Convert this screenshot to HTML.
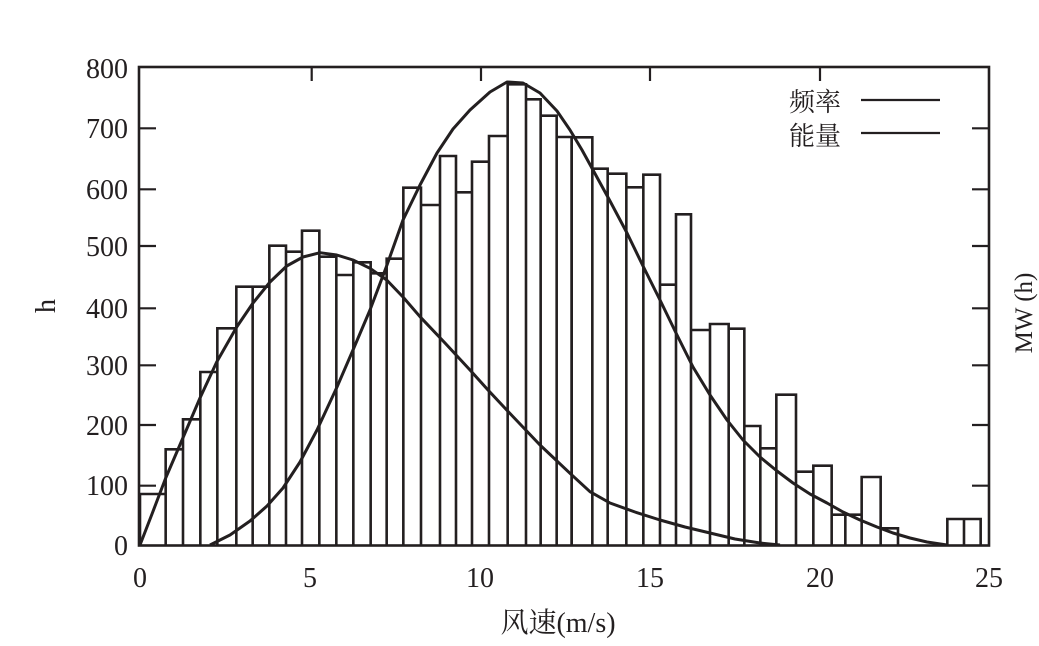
<!DOCTYPE html>
<html><head><meta charset="utf-8"><style>
html,body{margin:0;padding:0;background:#fff;}
svg{display:block}
text{font-family:"Liberation Serif","Noto Serif CJK SC",serif;fill:#231f20}
.cj{font-family:"Liberation Serif","Noto Serif CJK SC","Noto Sans CJK SC",serif}
</style></head><body>
<svg width="1039" height="646" viewBox="0 0 1039 646" xmlns="http://www.w3.org/2000/svg">
<g fill="#fff" stroke="#231f20" stroke-width="2.6" fill-opacity="0">
<g transform="translate(130,60) scale(0.33333)">
<path vector-effect="non-scaling-stroke" d="
M30,1455V1302H107V1455
M107,1455V1168H159V1455
M159,1455V1078H211V1455
M211,1455V936H262V1455
M262,1455V805H319V1455
M319,1455V680H368V1455
M368,1455V680H418V1455
M418,1455V557H468V1455
M468,1455V575H516V1455
M516,1455V512H568V1455
M568,1455V590H619V1455
M619,1455V645H670V1455
M670,1455V607H722V1455
M722,1455V640H770V1455
M770,1455V596H820V1455
M820,1455V383H873V1455
M873,1455V435H930V1455
M930,1455V288H978V1455
M978,1455V397H1026V1455
M1026,1455V305H1077V1455
M1077,1455V228H1133V1455
M1133,1455V73H1188V1455
M1188,1455V118H1232V1455
M1232,1455V167H1280V1455
M1280,1455V231H1325V1455
"/>
</g>
<g transform="translate(560,60) scale(0.33333)">
<path vector-effect="non-scaling-stroke" d="
M35,1455V232H97V1455
M97,1455V326H143V1455
M143,1455V341H199V1455
M199,1455V382H250V1455
M250,1455V344H300V1455
M300,1455V674H348V1455
M348,1455V463H393V1455
M393,1455V810H450V1455
M450,1455V792H506V1455
M506,1455V806H553V1455
M553,1455V1098H601V1455
M601,1455V1165H649V1455
M649,1455V1004H708V1455
M708,1455V1235H760V1455
M760,1455V1217H815V1455
M815,1455V1364H856V1455
M856,1455V1364H905V1455
M905,1455V1251H962V1455
M962,1455V1405H1014V1455
M1162,1455V1377H1212V1455
M1212,1455V1377H1262V1455
"/>
</g>
</g>
<g fill="none" stroke="#231f20" stroke-width="3" stroke-linejoin="round">
<path d="M140,545 L152,514 L165.7,478 L183.3,437 L200,398 L216.7,362 L236.7,327 L253,303 L270,282 L286.7,266 L303,257 L320,252.7 L336.7,255 L353,260 L370,268.3 L386.7,280 L403,297 L420,316.7 L445,343 L470,370 L488,390 L506.7,410 L540,445 L570,473.3 L590,491.7 L610,503 L635,512 L660,520 L685,527 L710,533 L735,539 L760,543 L780,545"/>
<path d="M210,545 L230,535 L250,521 L267,506 L283,488 L300,462 L317,430 L337,387 L353,350 L370,310 L387,265 L403,220 L420,185 L437,153 L453,129 L470,110 L490,92 L507,82 L523,83 L540,93 L557,111 L570,130 L582,150 L593,170 L610,201 L627,233 L643,266 L660,300 L677,335 L693,367 L710,395 L727,420 L743,440 L760,457 L777,471 L793,483 L810,494 L827,503 L843,512 L860,520 L877,527 L893,533 L910,538 L927,542 L947,545"/>
</g>
<rect x="139" y="67" width="850" height="478.5" fill="none" stroke="#231f20" stroke-width="2.6"/>
<g stroke="#231f20" stroke-width="2.2">
<path d="M139,485.7h17M139,425h17M139,365.3h17M139,308.3h17M139,246h17M139,189.3h17M139,128.3h17"/>
<path d="M989,485.7h-17M989,425h-17M989,365.3h-17M989,308.3h-17M989,246h-17M989,189.3h-17M989,128.3h-17"/>
<path d="M311.7,67v14M481,67v14M650,67v14M820,67v14"/>
</g>
<text x="789" y="111" font-size="26" class="cj">频率</text>
<text x="789" y="145" font-size="26" class="cj">能量</text>
<path d="M861,100H940M861,133H940" stroke="#231f20" stroke-width="2.2"/>
<g font-size="28" text-anchor="end">
<text x="128" y="555">0</text>
<text x="128" y="495">100</text>
<text x="128" y="435">200</text>
<text x="128" y="375">300</text>
<text x="128" y="318">400</text>
<text x="128" y="256">500</text>
<text x="128" y="199">600</text>
<text x="128" y="138">700</text>
<text x="128" y="78">800</text>
</g>
<g font-size="28" text-anchor="middle">
<text x="140" y="587">0</text>
<text x="310" y="587">5</text>
<text x="480" y="587">10</text>
<text x="650" y="587">15</text>
<text x="820" y="587">20</text>
<text x="989" y="587">25</text>
</g>
<text x="558" y="632" font-size="28" text-anchor="middle" class="cj">风速(m/s)</text>
<text transform="translate(55,306) rotate(-90)" font-size="28" text-anchor="middle">h</text>
<text transform="translate(1032,313) rotate(-90)" font-size="25" text-anchor="middle">MW (h)</text>
</svg>
</body></html>
